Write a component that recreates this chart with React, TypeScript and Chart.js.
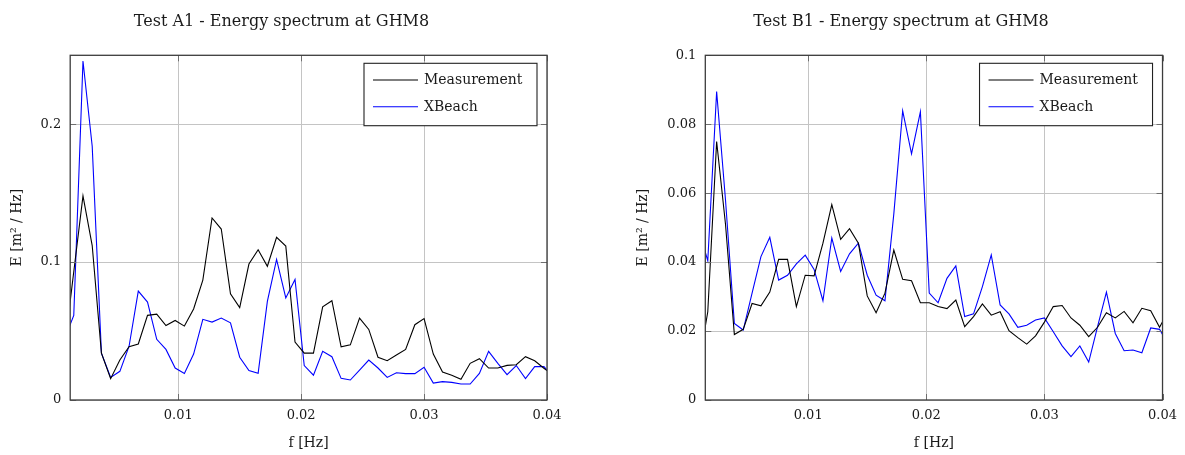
import React, { useEffect, useRef } from "react";
import Chart from "chart.js/auto";

const FONT = "'DejaVu Serif', serif";

// frequency bins [Hz]
const freq = [
  0.00075, 0.0015, 0.00225, 0.003, 0.00375, 0.0045, 0.00525, 0.006, 0.00675, 0.0075,
  0.00825, 0.009, 0.00975, 0.0105, 0.01125, 0.012, 0.01275, 0.0135, 0.01425, 0.015,
  0.01575, 0.0165, 0.01725, 0.018, 0.01875, 0.0195, 0.02025, 0.021, 0.02175, 0.0225,
  0.02325, 0.024, 0.02475, 0.0255, 0.02625, 0.027, 0.02775, 0.0285, 0.02925, 0.03,
  0.03075, 0.0315, 0.03225, 0.033, 0.03375, 0.0345, 0.03525, 0.036, 0.03675, 0.0375,
  0.03825, 0.039, 0.03975, 0.0405,
];

// Test A1
const measA1 = [
  0.0376, 0.093, 0.148, 0.112, 0.034, 0.0155, 0.029, 0.0386, 0.0406, 0.0614,
  0.0623, 0.054, 0.0577, 0.0536, 0.066, 0.087, 0.132, 0.124, 0.077, 0.067,
  0.0986, 0.109, 0.097, 0.118, 0.1116, 0.042, 0.034, 0.034, 0.0676, 0.072,
  0.0386, 0.04, 0.0594, 0.0512, 0.031, 0.0285, 0.0326, 0.0367, 0.0546, 0.059,
  0.0333, 0.0203, 0.0179, 0.015, 0.0266, 0.03, 0.0232, 0.0232, 0.0251, 0.0256,
  0.0314, 0.0285, 0.023, 0.018,
];
const xbeachA1 = [
  0.0443, 0.0614, 0.2459, 0.184, 0.034, 0.0164, 0.0208, 0.039, 0.079, 0.071,
  0.044, 0.0367, 0.0232, 0.0193, 0.0333, 0.0585, 0.0565, 0.0594, 0.056, 0.031,
  0.0213, 0.0193, 0.0715, 0.102, 0.074, 0.0874, 0.025, 0.018, 0.0353, 0.0314,
  0.0157, 0.0145, 0.0217, 0.029, 0.0232, 0.0164, 0.0198, 0.0191, 0.0191, 0.0237,
  0.0123, 0.0133, 0.0128, 0.0116, 0.0116, 0.0193, 0.0353, 0.0266, 0.0184, 0.025,
  0.0155, 0.0242, 0.0242, 0.0167,
];

// Test B1
const measB1 = [
  0.0104, 0.0256, 0.075, 0.051, 0.019, 0.0205, 0.028, 0.0273, 0.0313, 0.0408,
  0.0408, 0.0271, 0.0362, 0.036, 0.0455, 0.0567, 0.0466, 0.0497, 0.0455, 0.0302,
  0.0253, 0.031, 0.0435, 0.035, 0.0346, 0.0282, 0.0282, 0.0271, 0.0265, 0.029,
  0.0213, 0.0242, 0.0279, 0.0246, 0.0256, 0.0201, 0.0181, 0.0162, 0.0186, 0.0226,
  0.0271, 0.0274, 0.0238, 0.0217, 0.0184, 0.0211, 0.0253, 0.0238, 0.0257, 0.0224,
  0.0266, 0.0259, 0.0211, 0.0259,
];
const xbeachB1 = [
  0.0492, 0.0404, 0.0895, 0.058, 0.0222, 0.0203, 0.031, 0.0416, 0.0472, 0.0348,
  0.0362, 0.0395, 0.042, 0.0379, 0.0288, 0.047, 0.0373, 0.0424, 0.0455, 0.0362,
  0.0304, 0.0288, 0.054, 0.0839, 0.0714, 0.0836, 0.031, 0.0282, 0.0353, 0.0389,
  0.0242, 0.025, 0.0329, 0.0421, 0.0276, 0.025, 0.0211, 0.0217, 0.0232, 0.0238,
  0.0198, 0.0157, 0.0126, 0.0157, 0.011, 0.0213, 0.0313, 0.0193, 0.0143, 0.0145,
  0.0137, 0.0209, 0.0205, 0.016,
];

const xTicks = [0.01, 0.02, 0.03, 0.04];
const yTicksA1 = [0, 0.1, 0.2];
const yTicksB1 = [0, 0.02, 0.04, 0.06, 0.08, 0.1];
const seriesNames = ["Measurement", "XBeach"];
const seriesColors = ["#000000", "#0000ff"];
const titles = ["Test A1 - Energy spectrum at GHM8", "Test B1 - Energy spectrum at GHM8"];
const xLabel = "f [Hz]";
const yLabel = "E [m\u00B2 / Hz]";

const decor = {
  id: "decor",
  afterDraw(chart: any, _args: any, o: any) {
    const { ctx, chartArea: a, scales } = chart;
    ctx.save();
    // inward tick marks
    ctx.strokeStyle = "#6e6e6e";
    ctx.lineWidth = 1;
    const tl = 6;
    ctx.beginPath();
    for (const v of xTicks) {
      const px = Math.round(scales.x.getPixelForValue(v)) + 0.5;
      ctx.moveTo(px, a.bottom);
      ctx.lineTo(px, a.bottom - tl);
      ctx.moveTo(px, a.top);
      ctx.lineTo(px, a.top + tl);
    }
    for (const v of o.yTicks) {
      const py = Math.round(scales.y.getPixelForValue(v)) + 0.5;
      ctx.moveTo(a.left, py);
      ctx.lineTo(a.left + tl, py);
      ctx.moveTo(a.right, py);
      ctx.lineTo(a.right - tl, py);
    }
    ctx.stroke();
    // frame
    ctx.strokeStyle = "#3c3c3c";
    ctx.lineWidth = 1.3;
    ctx.strokeRect(a.left, a.top, a.right - a.left, a.bottom - a.top);

    // legend
    const lw = 173, lh = 62.4;
    const lx = a.right - 10 - lw, ly = a.top + 8;
    ctx.fillStyle = "#ffffff";
    ctx.fillRect(lx, ly, lw, lh);
    ctx.strokeStyle = "#222222";
    ctx.lineWidth = 1.1;
    ctx.strokeRect(lx, ly, lw, lh);
    ctx.font = `14px ${FONT}`;
    ctx.textAlign = "left";
    ctx.textBaseline = "middle";
    seriesNames.forEach((name, i) => {
      const yy = ly + 16.7 + i * 26.7;
      ctx.strokeStyle = seriesColors[i];
      ctx.lineWidth = 1.1;
      ctx.beginPath();
      ctx.moveTo(lx + 9, yy);
      ctx.lineTo(lx + 54, yy);
      ctx.stroke();
      ctx.fillStyle = "#1a1a1a";
      ctx.fillText(name, lx + 60, yy + 0.5);
    });

    // title
    ctx.fillStyle = "#1a1a1a";
    ctx.font = `16px ${FONT}`;
    ctx.textAlign = "center";
    ctx.textBaseline = "alphabetic";
    ctx.fillText(o.title, o.titleX, 26);

    // x label
    ctx.font = `14px ${FONT}`;
    ctx.textBaseline = "middle";
    ctx.fillText(xLabel, (a.left + a.right) / 2, 443);

    // y label
    ctx.translate(o.yLabelX, (a.top + a.bottom) / 2);
    ctx.rotate(-Math.PI / 2);
    ctx.fillText(yLabel, 0, 0);
    ctx.restore();
  },
};

type Panel = {
  title: string;
  meas: number[];
  xb: number[];
  yTicks: number[];
  yMax: number;
  xMin: number;
  plotLeft: number;
  padRight: number;
  titleX: number;
  yLabelX: number;
  width: number;
};

function SpectrumChart({ p }: { p: Panel }) {
  const ref = useRef<HTMLCanvasElement | null>(null);
  useEffect(() => {
    if (!ref.current) return;
    const mk = (vals: number[]) => freq.map((f, i) => ({ x: f, y: vals[i] }));
    const chart = new Chart(ref.current, {
      type: "line",
      data: {
        datasets: [
          {
            label: seriesNames[0],
            data: mk(p.meas),
            borderColor: seriesColors[0],
            borderWidth: 1.1,
            pointRadius: 0,
            tension: 0,
            clip: 0,
          },
          {
            label: seriesNames[1],
            data: mk(p.xb),
            borderColor: seriesColors[1],
            borderWidth: 1.1,
            pointRadius: 0,
            tension: 0,
            clip: 0,
          },
        ],
      },
      options: {
        responsive: false,
        animation: false,
        events: [],
        layout: { padding: { left: 0, right: p.padRight, top: 55.3, bottom: 0 } },
        plugins: {
          legend: { display: false },
          tooltip: { enabled: false },
          title: { display: false },
          decor: { title: p.title, titleX: p.titleX, yLabelX: p.yLabelX, yTicks: p.yTicks },
        } as any,
        scales: {
          x: {
            type: "linear",
            min: p.xMin,
            max: 0.04,
            afterFit: (s: any) => {
              s.height = 55;
            },
            afterBuildTicks: (s: any) => {
              s.ticks = xTicks.map((v) => ({ value: v }));
            },
            ticks: {
              callback: (v: any) => Number(v).toFixed(2),
              font: { family: FONT, size: 13 },
              color: "#1a1a1a",
              padding: 8,
              maxRotation: 0,
              autoSkip: false,
            },
            grid: { color: "#c4c4c4", drawTicks: false, lineWidth: 1 },
            border: { display: false },
          },
          y: {
            type: "linear",
            min: 0,
            max: p.yMax,
            afterFit: (s: any) => {
              s.width = p.plotLeft;
            },
            afterBuildTicks: (s: any) => {
              s.ticks = p.yTicks.map((v) => ({ value: v }));
            },
            ticks: {
              callback: (v: any) => String(Number(Number(v).toFixed(3))),
              font: { family: FONT, size: 13 },
              color: "#1a1a1a",
              padding: 9,
              autoSkip: false,
            },
            grid: { color: "#c4c4c4", drawTicks: false, lineWidth: 1 },
            border: { display: false },
          },
        },
      },
      plugins: [decor as any],
    });
    return () => chart.destroy();
  }, [p]);
  return <canvas ref={ref} width={p.width} height={455} style={{ display: "block", width: p.width, height: 455 }} />;
}

const panelA: Panel = {
  title: titles[0],
  meas: measA1,
  xb: xbeachA1,
  yTicks: yTicksA1,
  yMax: 0.25,
  xMin: 0.00121,
  plotLeft: 70.2,
  padRight: 45,
  titleX: 281.5,
  yLabelX: 17,
  width: 592,
};
const panelB: Panel = {
  title: titles[1],
  meas: measB1,
  xb: xbeachB1,
  yTicks: yTicksB1,
  yMax: 0.1,
  xMin: 0.00129,
  plotLeft: 113.3,
  padRight: 19.3,
  titleX: 901 - 592,
  yLabelX: 643.5 - 592,
  width: 593,
};

export default function App() {
  return (
    <div style={{ position: "fixed", left: 0, top: 0, width: 1185, height: 455, background: "#fff", display: "flex" }}>
      <SpectrumChart p={panelA} />
      <SpectrumChart p={panelB} />
    </div>
  );
}
